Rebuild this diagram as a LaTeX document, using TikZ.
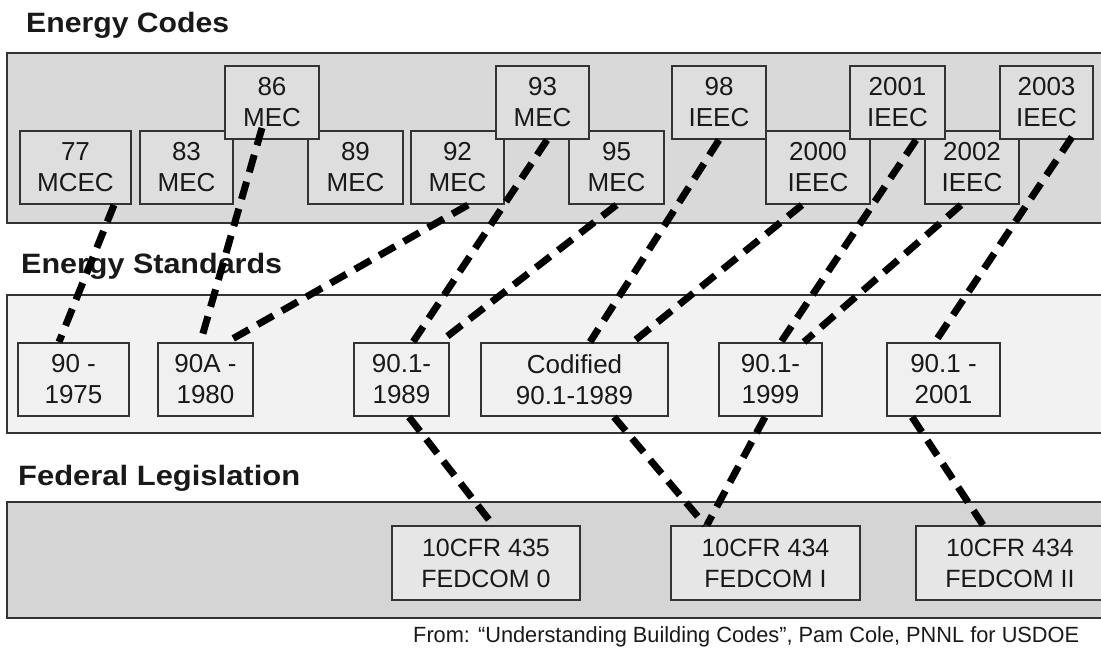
\documentclass[tikz,border=0pt]{standalone}
\usepackage{fontspec}
\setmainfont{Liberation Sans}
\usetikzlibrary{calc}
\definecolor{bandtop}{HTML}{D9D9D9}
\definecolor{boxtop}{HTML}{DEDEDE}
\definecolor{bandmid}{HTML}{F2F2F2}
\definecolor{boxmid}{HTML}{F0F0F0}
\definecolor{bandbot}{HTML}{D5D5D5}
\definecolor{boxbot}{HTML}{E6E6E6}
\definecolor{edge}{HTML}{333333}
\tikzset{
  band/.style={draw=edge, line width=2pt},
  cbox/.style={draw=edge, line width=2pt, fill=boxtop, inner sep=0pt, align=center, anchor=north west,
    font=\fontsize{26}{31}\selectfont, text=black!90},
  sbox/.style={cbox, fill=boxmid},
  fbox/.style={cbox, fill=boxbot, font=\fontsize{25}{31}\selectfont},
  link/.style={line width=7pt, dash pattern=on 18pt off 10pt, black},
  ttl/.style={anchor=base west, inner sep=0pt, text=black!90}
}
\begin{document}
\begin{tikzpicture}[x=1pt,y=-1pt]
\useasboundingbox (0,0) rectangle (1101,652);
\fill[white] (0,0) rectangle (1101,652);
% bands
\draw[band, fill=bandtop] (7,53) rectangle (1106,223);
\draw[band, fill=bandmid] (7,295) rectangle (1106,433);
\draw[band, fill=bandbot] (7,502) rectangle (1106,618);
% titles
\node[ttl] (t1) at (26,33) {\resizebox{203pt}{\height}{\bfseries\fontsize{28}{30}\selectfont Energy Codes}};
\node[ttl] (t2) at (21,274) {\resizebox{261pt}{\height}{\bfseries\fontsize{28}{30}\selectfont Energy Standards}};
\node[ttl] (t3) at (18,485) {\resizebox{282pt}{\height}{\bfseries\fontsize{28}{30}\selectfont Federal Legislation}};
\node[ttl] (cr) at (413,642) {\resizebox{666pt}{\height}{\fontsize{22}{24}\selectfont From: “Understanding Building Codes”, Pam Cole, PNNL for USDOE}};
% code boxes, lower row
\node[cbox, minimum width=111pt, minimum height=73pt] (c77) at (19,130) {77\\MCEC};
\node[cbox, minimum width=93pt, minimum height=73pt] (c83) at (139,130) {83\\MEC};
\node[cbox, minimum width=95pt, minimum height=73pt] (c89) at (307,130) {89\\MEC};
\node[cbox, minimum width=93pt, minimum height=73pt] (c92) at (410,130) {92\\MEC};
\node[cbox, minimum width=95pt, minimum height=73pt] (c95) at (568,130) {95\\MEC};
\node[cbox, minimum width=104pt, minimum height=73pt] (c2000) at (765,130) {2000\\IEEC};
\node[cbox, minimum width=94pt, minimum height=73pt] (c2002) at (924,130) {2002\\IEEC};
% code boxes, upper row
\node[cbox, minimum width=94pt, minimum height=73pt] (c86) at (224,65) {86\\MEC};
\node[cbox, minimum width=93pt, minimum height=73pt] (c93) at (495,65) {93\\MEC};
\node[cbox, minimum width=94pt, minimum height=73pt] (c98) at (671,65) {98\\IEEC};
\node[cbox, minimum width=95pt, minimum height=73pt] (c2001) at (849,65) {2001\\IEEC};
\node[cbox, minimum width=93pt, minimum height=73pt] (c2003) at (999,65) {2003\\IEEC};
% standards
\node[sbox, minimum width=111pt, minimum height=73pt] (s75) at (17,342) {90 -\\1975};
\node[sbox, minimum width=95pt, minimum height=73pt] (s80) at (157,342) {90A -\\1980};
\node[sbox, minimum width=95pt, minimum height=73pt] (s89) at (353,342) {90.1-\\1989};
\node[sbox, minimum width=187pt, minimum height=73pt] (scod) at (480,342) {Codified\\90.1-1989};
\node[sbox, minimum width=103pt, minimum height=73pt] (s99) at (718,342) {90.1-\\1999};
\node[sbox, minimum width=113pt, minimum height=73pt] (s01) at (886,342) {90.1 -\\2001};
% federal
\node[fbox, minimum width=188pt, minimum height=74pt] (f0) at (391,525) {10CFR 435\\FEDCOM 0};
\node[fbox, minimum width=189pt, minimum height=74pt] (f1) at (670,525) {10CFR 434\\FEDCOM I};
\node[fbox, minimum width=188pt, minimum height=74pt] (f2) at (915,525) {10CFR 434\\FEDCOM II};
% links
\draw[link] ([xshift=38.5pt]c77.south) -- ([xshift=-14.5pt]s75.north);
\draw[link] ([xshift=-10pt,yshift=12pt]c86.south) -- ([xshift=-5pt]s80.north);
\draw[link] ([xshift=10.5pt]c92.south) -- ([xshift=21.5pt]s80.north);
\draw[link] ([xshift=4.5pt]c93.south) -- ([xshift=11.5pt]s89.north);
\draw[link] (c95.south) -- ([xshift=38.5pt]s89.north);
\draw[link] (c98.south) -- ([xshift=15.5pt]scod.north);
\draw[link] ([xshift=-16pt]c2000.south) -- ([xshift=58.5pt]scod.north);
\draw[link] ([xshift=18.5pt]c2001.south) -- ([xshift=10.5pt]s99.north);
\draw[link] ([xshift=-11pt]c2002.south) -- ([xshift=33.5pt]s99.north);
\draw[link] ([xshift=25.5pt,yshift=3pt]c2003.south) -- ([xshift=-8.5pt]s01.north);
\draw[link] ([xshift=7.5pt]s89.south) -- ([xshift=7pt]f0.north);
\draw[link] ([xshift=39.5pt]scod.south) -- ([xshift=-60.5pt]f1.north);
\draw[link] ([xshift=-5.5pt]s99.south) -- ([xshift=-58.5pt]f1.north);
\draw[link] ([xshift=-31.5pt]s01.south) -- ([xshift=-27pt]f2.north);
\end{tikzpicture}
\end{document}
